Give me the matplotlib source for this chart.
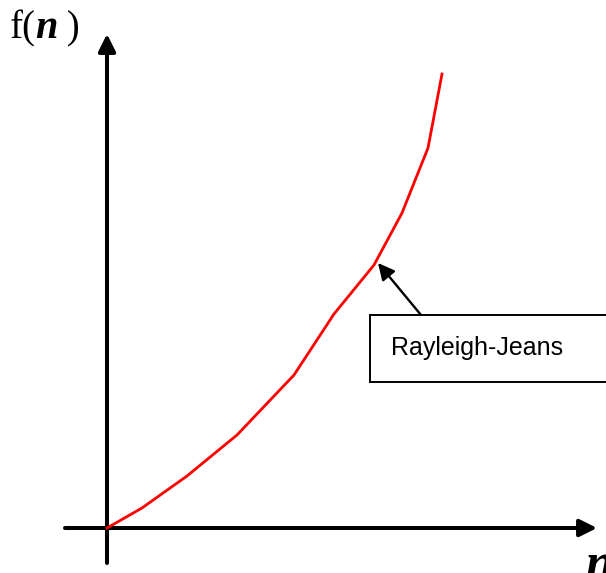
import matplotlib
matplotlib.use("Agg")
import matplotlib.pyplot as plt
from matplotlib.patches import Rectangle

# Data (arbitrary units; origin at axes crossing)
n_vals = [0.0, 3.5, 8.0, 13.0, 18.7, 22.7, 26.7, 29.5, 32.1, 33.5]
f_vals = [0.0, 2.0, 5.2, 9.3, 15.3, 21.4, 26.3, 31.5, 38.0, 45.4]
curve_label = "Rayleigh-Jeans"
y_label_parts = ["f(", "n", " )"]
x_label = "n"

W, H = 606, 573
fig = plt.figure(figsize=(W / 100, H / 100), dpi=100)
ax = fig.add_axes([0, 0, 1, 1])
ax.set_xlim(-10.7, 49.9)
ax.set_ylim(-4.5, 52.8)
ax.axis("off")

# axes with arrows
ax.annotate("", xy=(0, 49.4), xytext=(0, -3.5),
            arrowprops=dict(arrowstyle="-|>", lw=2.9, color="black",
                            mutation_scale=26, shrinkA=0, shrinkB=0))
ax.annotate("", xy=(49.0, 0), xytext=(-4.2, 0),
            arrowprops=dict(arrowstyle="-|>", lw=2.9, color="black",
                            mutation_scale=26, shrinkA=0, shrinkB=0))

# curve
ax.plot(n_vals, f_vals, color="#ff0000", lw=2.0, solid_joinstyle="round", zorder=3)

# label box
ax.add_patch(Rectangle((26.3, 14.6), 26.0, 6.7, fill=True, facecolor="white",
                       edgecolor="black", lw=1.4, zorder=2))
ax.text(28.4, 18.0, curve_label, fontsize=18, family="Liberation Sans",
        va="center", ha="left", zorder=4)
# pointer arrow to curve
ax.annotate("", xy=(n_vals[6] + 0.4, f_vals[6] + 0.2), xytext=(31.4, 21.3),
            arrowprops=dict(arrowstyle="-|>", lw=1.7, color="black",
                            mutation_scale=25, shrinkA=0, shrinkB=0), zorder=4)

# y label f(n)
serif = "Liberation Serif"
fig.text(10 / W, 1 - 38 / H, y_label_parts[0], fontsize=28, family=serif,
         ha="left", va="baseline")
fig.text(35 / W, 1 - 38 / H, y_label_parts[1], fontsize=29, family=serif,
         style="italic", weight="bold", ha="left", va="baseline")
fig.text(57 / W, 1 - 38 / H, y_label_parts[2], fontsize=28, family=serif,
         ha="left", va="baseline")

# x label n (clipped at the bottom edge, as in the reference)
fig.text(586 / W, 1 - 578 / H, x_label, fontsize=36, family=serif,
         style="italic", weight="bold", ha="left", va="baseline")

fig.savefig("out.png", dpi=100)
